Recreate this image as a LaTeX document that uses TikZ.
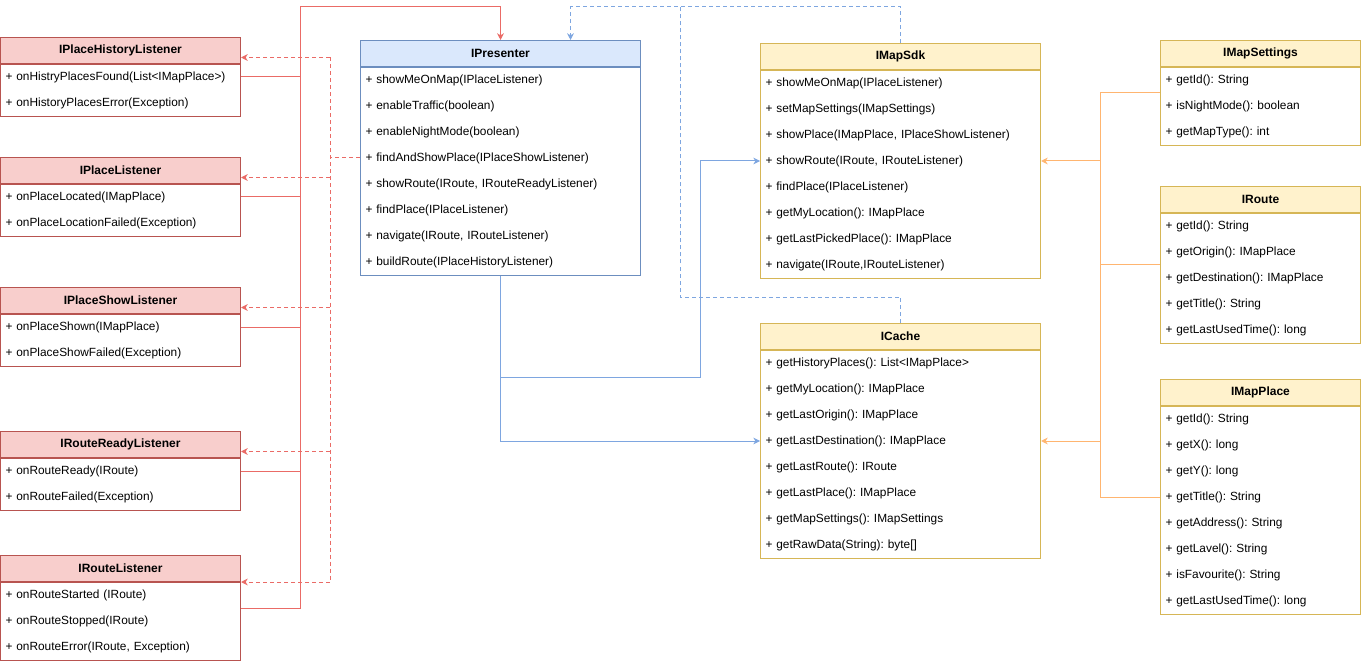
\documentclass[tikz,border=0pt]{standalone}
\usepackage{fontspec}
\setmainfont{Liberation Sans}
\frenchspacing
\usetikzlibrary{arrows.meta, positioning, calc}
\definecolor{rfill}{HTML}{F8CECC}
\definecolor{rline}{HTML}{B85450}
\definecolor{bfill}{HTML}{DAE8FC}
\definecolor{bline}{HTML}{6C8EBF}
\definecolor{yfill}{HTML}{FFF2CC}
\definecolor{yline}{HTML}{D6B656}
\definecolor{redlink}{HTML}{EA6B66}
\definecolor{bluelink}{HTML}{7EA6E0}
\definecolor{orangelink}{HTML}{FFB570}
\tikzset{
  every picture/.style={font=\fontsize{8.9}{10.5}\selectfont, line width=0.75pt},
  head/.style={draw=#1line, fill=#1fill, anchor=north west, align=center, inner sep=0pt, minimum height=19.5pt, font=\fontsize{9}{10.5}\selectfont\bfseries},
  body/.style={draw=#1line, fill=white, align=left, inner xsep=3.75pt, inner ysep=0pt, font=\fontsize{8.9}{19.5}\selectfont},
  colL/.style={minimum width=180pt, text width=172.5pt},
  colM/.style={minimum width=210pt, text width=202.5pt},
  colR/.style={minimum width=150pt, text width=142.5pt},
  rows/.style={minimum height=#1*19.5pt},
  arrow/.style={-{Stealth[length=5pt, width=5pt, inset=1.5pt]}},
  link/.style={draw=#1},
  dashlink/.style={draw=#1, dash pattern=on 3pt off 2.25pt},
}
\begin{document}
\begin{tikzpicture}[x=0.75pt, y=-0.75pt]
  \useasboundingbox (0,0) rectangle (1361,663);
  % listeners
  \node[head=r, colL] (histH) at (0,37) {IPlaceHistoryListener};
  \node[body=r, colL, rows=2, below=0pt of histH] (hist) {+ onHistryPlacesFound(List<IMapPlace>)\\+ onHistoryPlacesError(Exception)};
  \node[head=r, colL] (placeH) at (0,157) {IPlaceListener};
  \node[body=r, colL, rows=2, below=0pt of placeH] (place) {+ onPlaceLocated(IMapPlace)\\+ onPlaceLocationFailed(Exception)};
  \node[head=r, colL] (showH) at (0,287) {IPlaceShowListener};
  \node[body=r, colL, rows=2, below=0pt of showH] (show) {+ onPlaceShown(IMapPlace)\\+ onPlaceShowFailed(Exception)};
  \node[head=r, colL] (readyH) at (0,431) {IRouteReadyListener};
  \node[body=r, colL, rows=2, below=0pt of readyH] (ready) {+ onRouteReady(IRoute)\\+ onRouteFailed(Exception)};
  \node[head=r, colL] (routeLH) at (0,555) {IRouteListener};
  \node[body=r, colL, rows=3, below=0pt of routeLH] (routeL) {+ onRouteStarted (IRoute)\\+ onRouteStopped(IRoute)\\+ onRouteError(IRoute, Exception)};
  % presenter
  \node[head=b, colM] (presH) at (360,40) {IPresenter};
  \node[body=b, colM, rows=8, below=0pt of presH] (pres) {+ showMeOnMap(IPlaceListener)\\+ enableTraffic(boolean)\\+ enableNightMode(boolean)\\+ findAndShowPlace(IPlaceShowListener)\\+ showRoute(IRoute, IRouteReadyListener)\\+ findPlace(IPlaceListener)\\+ navigate(IRoute, IRouteListener)\\+ buildRoute(IPlaceHistoryListener)};
  % sdk and cache
  \node[head=y, colM] (sdkH) at (760,43) {IMapSdk};
  \node[body=y, colM, rows=8, below=0pt of sdkH] (sdk) {+ showMeOnMap(IPlaceListener)\\+ setMapSettings(IMapSettings)\\+ showPlace(IMapPlace, IPlaceShowListener)\\+ showRoute(IRoute, IRouteListener)\\+ findPlace(IPlaceListener)\\+ getMyLocation(): IMapPlace\\+ getLastPickedPlace(): IMapPlace\\+ navigate(IRoute,IRouteListener)};
  \node[head=y, colM] (cacheH) at (760,323) {ICache};
  \node[body=y, colM, rows=8, below=0pt of cacheH] (cache) {+ getHistoryPlaces(): List<IMapPlace>\\+ getMyLocation(): IMapPlace\\+ getLastOrigin(): IMapPlace\\+ getLastDestination(): IMapPlace\\+ getLastRoute(): IRoute\\+ getLastPlace(): IMapPlace\\+ getMapSettings(): IMapSettings\\+ getRawData(String): byte[]};
  % entities
  \node[head=y, colR] (setH) at (1160,40) {IMapSettings};
  \node[body=y, colR, rows=3, below=0pt of setH] (set) {+ getId(): String\\+ isNightMode(): boolean\\+ getMapType(): int};
  \node[head=y, colR] (routeH) at (1160,186) {IRoute};
  \node[body=y, colR, rows=5, below=0pt of routeH] (route) {+ getId(): String\\+ getOrigin(): IMapPlace\\+ getDestination(): IMapPlace\\+ getTitle(): String\\+ getLastUsedTime(): long};
  \node[head=y, colR] (mapH) at (1160,379) {IMapPlace};
  \node[body=y, colR, rows=8, below=0pt of mapH] (map) {+ getId(): String\\+ getX(): long\\+ getY(): long\\+ getTitle(): String\\+ getAddress(): String\\+ getLavel(): String\\+ isFavourite(): String\\+ getLastUsedTime(): long};
  % side points of the classes
  \foreach \n in {hist,place,show,ready,routeL,set,route,map,sdk,cache} {
    \coordinate (\n-e) at ($(\n H.north east)!.5!(\n.south east)$);
    \coordinate (\n-w) at ($(\n H.north west)!.5!(\n.south west)$);
  }
  \foreach \n in {hist,place,show,ready}
    \coordinate (\n-a) at ($(\n H.east)+(0,7)$);
  \coordinate (routeL-a) at (routeLH.south east);
  \coordinate (pres-l) at ($(pres.north west)+(0,91)$);
  % listeners -> presenter
  \coordinate (redtop) at (300,7);
  \draw[link=redlink, arrow] (routeL-e) -| (redtop) -| (presH.north);
  \foreach \n in {hist,place,show,ready}
    \draw[link=redlink] (\n-e) -- (\n-e -| redtop);
  % presenter uses the listeners
  \coordinate (reddash) at (330,0);
  \draw[dashlink=redlink] (pres-l) -- (pres-l -| reddash);
  \draw[dashlink=redlink] (hist-a -| reddash) -- (routeL-a -| reddash);
  \foreach \n in {hist,place,show,ready,routeL}
    \draw[dashlink=redlink, arrow] (\n-a -| reddash) -- (\n-a);
  % presenter -> sdk, cache
  \draw[link=bluelink, arrow] (pres.south) |- (700,377) |- (sdk-w);
  \draw[link=bluelink, arrow] (pres.south) |- (cache-w);
  % sdk, cache -> presenter
  \coordinate (bluetop) at (0,7);
  \draw[dashlink=bluelink, arrow] (sdkH.north) -- (sdkH.north |- bluetop) -| ($(presH.north)+(70,0)$);
  \draw[dashlink=bluelink] (cacheH.north) -- ++(0,-26) -| (680,7);
  % entities -> sdk, cache
  \coordinate (otrunk) at (1100,0);
  \draw[link=orangelink] (set-w) -| (map-w -| otrunk) -- (map-w);
  \draw[link=orangelink] (route-w) -- (route-w -| otrunk);
  \draw[link=orangelink, arrow] (sdk-e -| otrunk) -- (sdk-e);
  \draw[link=orangelink, arrow] (cache-e -| otrunk) -- (cache-e);
\end{tikzpicture}
\end{document}
